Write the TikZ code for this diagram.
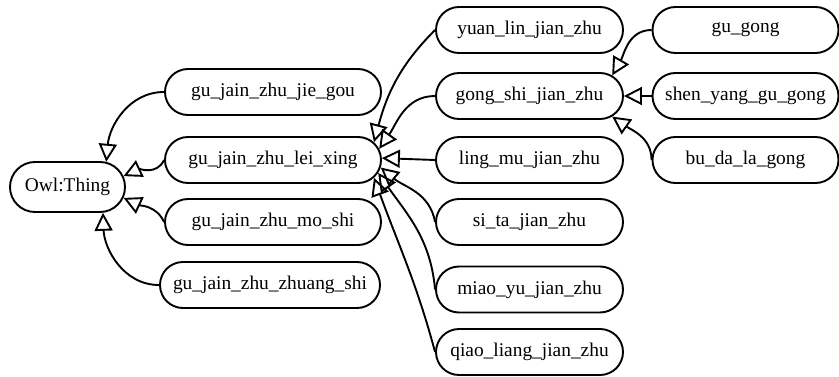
\documentclass[tikz,border=0pt]{standalone}
\usepackage{fontspec}
\setmainfont{Liberation Serif}
\usetikzlibrary{shapes.misc,arrows.meta}
\begin{document}
\begin{tikzpicture}[x=1pt,y=1pt,
  box/.style={rounded rectangle, draw, line width=1.9pt, minimum height=46pt, inner sep=0pt, font=\fontsize{19.4}{23}\selectfont},
  lbox/.style={box, minimum width=216pt},
  rbox/.style={box, minimum width=187pt},
  isa/.style={line width=1.9pt, arrows={-Triangle[open, length=18pt, width=18pt]}}]
\useasboundingbox (0,0) rectangle (839,376);
\node[box, minimum width=115pt, minimum height=50pt] (owl) at (67.5,189) {Owl:Thing};
\node[lbox] (jie) at (273,284) {gu\_jain\_zhu\_jie\_gou};
\node[lbox] (lei) at (273,216) {gu\_jain\_zhu\_lei\_xing};
\node[lbox] (mo) at (273,154) {gu\_jain\_zhu\_mo\_shi};
\node[box, minimum width=220pt] (zhuang) at (270,91) {gu\_jain\_zhu\_zhuang\_shi};
\node[rbox] (yuan) at (529.5,346) {yuan\_lin\_jian\_zhu};
\node[rbox] (gong) at (529.5,280) {gong\_shi\_jian\_zhu};
\node[rbox] (ling) at (529.5,216) {ling\_mu\_jian\_zhu};
\node[rbox] (sita) at (529.5,154) {si\_ta\_jian\_zhu};
\node[rbox] (miao) at (529.5,86.5) {miao\_yu\_jian\_zhu};
\node[rbox] (qiao) at (529.5,24) {qiao\_liang\_jian\_zhu};
\node[box, minimum width=186pt] (gugong) at (745.5,346) {gu\_gong};
\node[box, minimum width=186pt] (shen) at (745.5,280) {shen\_yang\_gu\_gong};
\node[box, minimum width=186pt] (buda) at (745.5,216) {bu\_da\_la\_gong};
% to Owl:Thing
\draw[isa] (jie.west) to[out=180,in=85] (owl.33);
\draw[isa] (lei.west) to[out=-115,in=25] (owl.11);
\draw[isa] (mo.west) to[out=115,in=-25] (owl.-11);
\draw[isa] (zhuang.west) to[out=180,in=-88] (owl.-36);
% to lei_xing
\draw[isa] (yuan.west) to[out=-135,in=75] (lei.10);
\draw[isa] (gong.west) to[out=180,in=55] (lei.6);
\draw[isa] (ling.west) -- (lei.1);
\draw[isa] (sita.west) to[out=100,in=-40] (lei.-4);
\draw[isa] (miao.west) to[out=95,in=-55] (lei.-7);
\draw[isa] (qiao.west) to[out=105,in=-70] (lei.-10);
% to gong_shi
\draw[isa] (gugong.west) to[out=180,in=60] (gong.14);
\draw[isa] (shen.west) -- (gong.east);
\draw[isa] (buda.west) to[out=90,in=-35] (gong.-14);
\end{tikzpicture}
\end{document}
